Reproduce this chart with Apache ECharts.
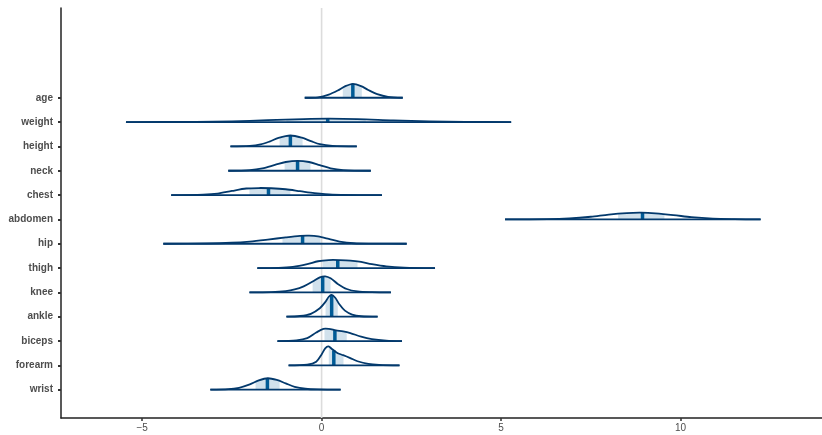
<!DOCTYPE html>
<html>
<head>
<meta charset="utf-8">
<script src="https://cdn.jsdelivr.net/npm/echarts@6/dist/echarts.min.js"></script>
<style>
  html, body { margin: 0; padding: 0; background: #ffffff; }
  #chart { width: 822px; height: 435px; }
</style>
</head>
<body>
<div id="chart"></div>
<script>
// Posterior coefficient areas: one ridge per predictor.
const params = ['age', 'weight', 'height', 'neck', 'chest', 'abdomen', 'hip',
                'thigh', 'knee', 'ankle', 'biceps', 'forearm', 'wrist'];

const medians = [0.87, 0.17, -0.87, -0.67, -1.48, 8.94, -0.53, 0.45, 0.03, 0.28, 0.37, 0.34, -1.51];
const innerLo = [0.59, -0.98, -1.17, -1.03, -2.01, 8.26, -1.09, 0.03, -0.25, 0.11, 0.08, 0.20, -1.84];
const innerHi = [1.12, 1.23, -0.53, -0.31, -0.87, 9.55, -0.03, 1.00, 0.25, 0.45, 0.70, 0.61, -1.17];

// Density outlines as [value, height in row units]; first/last points are the outer interval ends.
const densAge = [[-0.47, 0], [-0.1, 0.02], [0.2, 0.13], [0.45, 0.3], [0.65, 0.47], [0.87, 0.575],
                 [1.1, 0.48], [1.3, 0.32], [1.55, 0.15], [1.85, 0.04], [2.26, 0]];
const densWeight = [[-5.45, 0], [-3.5, 0.01], [-2.5, 0.03], [-1.5, 0.08], [-0.5, 0.125], [0.2, 0.14],
                    [1.0, 0.125], [2.0, 0.07], [3.0, 0.03], [4.0, 0.01], [5.28, 0]];
const densHeight = [[-2.54, 0], [-2.0, 0.02], [-1.7, 0.08], [-1.45, 0.2], [-1.2, 0.35], [-0.87, 0.45],
                    [-0.55, 0.36], [-0.3, 0.22], [-0.05, 0.09], [0.3, 0.02], [0.98, 0]];
const densNeck = [[-2.6, 0], [-2.0, 0.03], [-1.65, 0.1], [-1.3, 0.24], [-1.0, 0.36], [-0.67, 0.41],
                  [-0.35, 0.36], [-0.05, 0.23], [0.25, 0.1], [0.6, 0.03], [1.37, 0]];
const densChest = [[-4.19, 0], [-3.3, 0.02], [-2.9, 0.06], [-2.5, 0.17], [-2.1, 0.27], [-1.75, 0.29],
                   [-1.4, 0.28], [-1.0, 0.24], [-0.6, 0.16], [-0.2, 0.08], [0.3, 0.02], [1.68, 0]];
const densAbdomen = [[5.11, 0], [6.3, 0.01], [6.9, 0.04], [7.5, 0.11], [8.0, 0.2], [8.5, 0.26],
                     [8.9, 0.275], [9.3, 0.25], [9.8, 0.18], [10.3, 0.09], [10.9, 0.03], [11.5, 0.01], [12.23, 0]];
const densHip = [[-4.41, 0], [-3.2, 0.01], [-2.5, 0.04], [-2.0, 0.09], [-1.5, 0.17], [-1.0, 0.26],
                 [-0.6, 0.32], [-0.35, 0.33], [-0.1, 0.3], [0.2, 0.2], [0.5, 0.09], [0.9, 0.02], [1.4, 0.005], [2.37, 0]];
const densThigh = [[-1.79, 0], [-1.2, 0.01], [-0.8, 0.05], [-0.4, 0.16], [-0.1, 0.28], [0.2, 0.33],
                   [0.5, 0.33], [0.8, 0.31], [1.1, 0.25], [1.4, 0.16], [1.8, 0.07], [2.3, 0.02], [3.16, 0]];
const densKnee = [[-2.01, 0], [-1.4, 0.01], [-1.0, 0.05], [-0.75, 0.12], [-0.5, 0.25], [-0.25, 0.45],
                  [-0.05, 0.62], [0.1, 0.66], [0.25, 0.58], [0.45, 0.35], [0.7, 0.14], [1.0, 0.04], [1.4, 0.01], [1.93, 0]];
const densAnkle = [[-0.98, 0], [-0.6, 0.03], [-0.3, 0.12], [-0.05, 0.35], [0.1, 0.6], [0.2, 0.82],
                   [0.28, 0.9], [0.38, 0.78], [0.5, 0.5], [0.65, 0.25], [0.85, 0.09], [1.1, 0.02], [1.56, 0]];
const densBiceps = [[-1.23, 0], [-0.7, 0.03], [-0.4, 0.12], [-0.15, 0.35], [0.05, 0.5], [0.2, 0.5],
                    [0.4, 0.44], [0.6, 0.4], [0.8, 0.33], [1.1, 0.18], [1.4, 0.08], [1.8, 0.02], [2.24, 0]];
const densForearm = [[-0.92, 0], [-0.4, 0.03], [-0.15, 0.15], [0.0, 0.45], [0.1, 0.7], [0.19, 0.78],
                     [0.3, 0.66], [0.45, 0.5], [0.6, 0.42], [0.8, 0.3], [1.0, 0.17], [1.3, 0.06], [1.6, 0.02], [2.17, 0]];
const densWrist = [[-3.1, 0], [-2.6, 0.02], [-2.3, 0.08], [-2.0, 0.22], [-1.75, 0.38], [-1.5, 0.47],
                   [-1.25, 0.4], [-1.0, 0.26], [-0.75, 0.12], [-0.45, 0.04], [-0.1, 0.01], [0.53, 0]];

const densities = [densAge, densWeight, densHeight, densNeck, densChest, densAbdomen, densHip,
                   densThigh, densKnee, densAnkle, densBiceps, densForearm, densWrist];

const xTicks = [-5, 0, 5, 10];

const X_MIN = -7.26, X_MAX = 13.94;
const Y_MIN = -0.163, Y_MAX = 16.69;
const nRows = params.length;
const rowOf = i => nRows - i;           // age at top, wrist at bottom

const COL_LINE = '#03396c';
const COL_MED = '#005b96';
const COL_FILL = '#d1e1ec';

// height of the drawn outline at value x
function heightAt(d, x) {
  if (x <= d[0][0]) return d[0][1];
  for (let k = 1; k < d.length; k++) {
    if (x <= d[k][0]) {
      const t = (x - d[k - 1][0]) / (d[k][0] - d[k - 1][0]);
      return d[k - 1][1] + t * (d[k][1] - d[k - 1][1]);
    }
  }
  return d[d.length - 1][1];
}

function renderRidge(p, api) {
  const i = api.value(0);
  const d = densities[i];
  const y0 = rowOf(i);
  const lo = innerLo[i], hi = innerHi[i], med = medians[i];

  // inner interval area
  const inner = [api.coord([lo, y0]), api.coord([lo, y0 + heightAt(d, lo)])];
  d.forEach(pt => { if (pt[0] > lo && pt[0] < hi) inner.push(api.coord([pt[0], y0 + pt[1]])); });
  inner.push(api.coord([hi, y0 + heightAt(d, hi)]));
  inner.push(api.coord([hi, y0]));

  const outline = d.map(pt => api.coord([pt[0], y0 + pt[1]]));
  const b0 = api.coord([d[0][0], y0]);
  const b1 = api.coord([d[d.length - 1][0], y0]);
  const m0 = api.coord([med, y0]);
  const m1 = api.coord([med, y0 + heightAt(d, med)]);

  return {
    type: 'group',
    children: [
      { type: 'polygon', shape: { points: inner }, style: { fill: COL_FILL, stroke: null } },
      { type: 'line', shape: { x1: m0[0], y1: m0[1], x2: m1[0], y2: m1[1] },
        style: { stroke: COL_MED, lineWidth: 3.5 } },
      { type: 'line', shape: { x1: b0[0], y1: b0[1], x2: b1[0], y2: b1[1] },
        style: { stroke: COL_LINE, lineWidth: 1.8 } },
      { type: 'polyline', shape: { points: outline, smooth: 0.3 },
        style: { stroke: COL_LINE, lineWidth: 1.8, fill: null } }
    ]
  };
}

const chart = echarts.init(document.getElementById('chart'), null, { renderer: 'canvas' });

chart.setOption({
  animation: false,
  backgroundColor: '#ffffff',
  grid: { left: 61, right: 0, top: 8, bottom: 17, containLabel: false },
  xAxis: {
    type: 'value',
    min: X_MIN,
    max: X_MAX,
    splitLine: { show: false },
    axisLine: { show: true, onZero: false, lineStyle: { color: '#222222', width: 1.5 } },
    axisTick: { show: true, length: 3, customValues: xTicks, lineStyle: { color: '#333333', width: 1.5 } },
    axisLabel: {
      customValues: xTicks,
      margin: 5,
      color: '#4d4d4d',
      fontSize: 10,
      fontFamily: 'Liberation Sans, Arial, sans-serif',
      formatter: v => String(v).replace('-', '\u2212')
    }
  },
  yAxis: {
    type: 'value',
    min: Y_MIN,
    max: Y_MAX,
    splitLine: { show: false },
    axisLine: { show: true, onZero: false, lineStyle: { color: '#222222', width: 1.5 } },
    axisTick: { show: true, length: 3, customValues: params.map((_, i) => rowOf(i)),
                lineStyle: { color: '#333333', width: 2 } },
    axisLabel: {
      customValues: params.map((_, i) => rowOf(i)),
      margin: 8,
      color: '#4d4d4d',
      fontSize: 10,
      fontWeight: 'bold',
      fontFamily: 'Liberation Sans, Arial, sans-serif',
      formatter: v => params[nRows - Math.round(v)]
    }
  },
  series: [
    {
      // reference line at zero
      type: 'line',
      data: [[0, Y_MIN], [0, Y_MAX]],
      symbol: 'none',
      silent: true,
      z: 1,
      lineStyle: { color: '#dcdcdc', width: 1.6 }
    },
    {
      type: 'custom',
      z: 2,
      silent: true,
      renderItem: renderRidge,
      data: params.map((_, i) => [i]),
      encode: { x: -1, y: -1 }
    }
  ]
});
</script>
</body>
</html>
